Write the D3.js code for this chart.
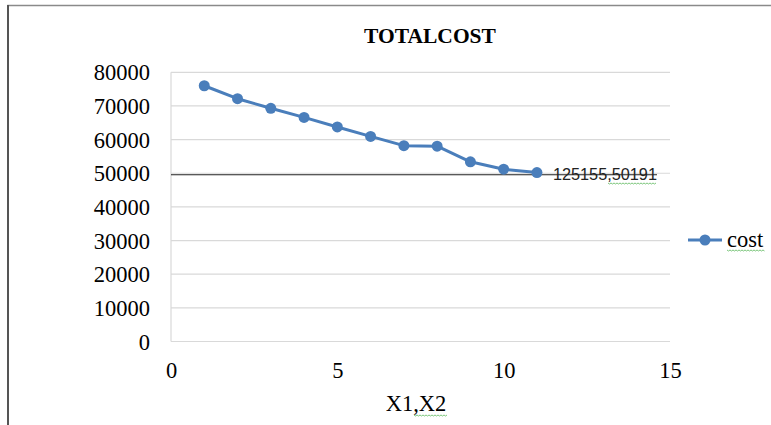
<!DOCTYPE html>
<html>
<head>
<meta charset="utf-8">
<script src="https://cdn.jsdelivr.net/npm/d3@7"></script>
<style>
  html, body { margin: 0; padding: 0; background: #fff; }
  svg { display: block; }
</style>
</head>
<body>
<svg id="chart" width="771" height="425"></svg>
<script>
// Total cost per step of (X1, X2)
const steps = [1, 2, 3, 4, 5, 6, 7, 8, 9, 10, 11];
const cost = [76000, 72150, 69300, 66600, 63750, 60950, 58200, 58050, 53400, 51200, 50191];
const xTicks = [0, 5, 10, 15];
const yTicks = [0, 10000, 20000, 30000, 40000, 50000, 60000, 70000, 80000];
const seriesName = "cost";
const chartTitle = "TOTALCOST";
const xTitle = "X1,X2";
const pointNote = "125155,50191";
const noteLineValue = 49550;

const blue = "#4a7ebb";
const svg = d3.select("#chart");

// outer chart frame
svg.append("rect")
  .attr("x", 8).attr("y", 5.5)
  .attr("width", 800).attr("height", 460)
  .attr("fill", "none").attr("stroke", "#8a8a8a").attr("stroke-width", 1.5);
svg.append("line")
  .attr("x1", 8).attr("x2", 8).attr("y1", 5).attr("y2", 425)
  .attr("stroke", "#555").attr("stroke-width", 2);

const x = d3.scaleLinear().domain([0, 15]).range([171, 670]);
const y = d3.scaleLinear().domain([0, 80000]).range([341.5, 72.3]);

// horizontal gridlines
svg.append("g")
  .selectAll("line").data(yTicks).join("line")
  .attr("x1", x(0)).attr("x2", x(15))
  .attr("y1", d => y(d)).attr("y2", d => y(d))
  .attr("stroke", "#d9d9d9").attr("stroke-width", 1.2);

// left edge of the plot area
svg.append("line")
  .attr("x1", x(0)).attr("x2", x(0)).attr("y1", y(80000)).attr("y2", y(0))
  .attr("stroke", "#d9d9d9").attr("stroke-width", 1.2);

// y axis labels
const yAxis = d3.axisLeft(y).tickValues(yTicks).tickSize(0).tickPadding(0).tickFormat(d3.format("d"));
const yg = svg.append("g").attr("transform", "translate(150,0)").call(yAxis);
yg.select(".domain").remove();
yg.selectAll("text")
  .attr("font-family", "'Liberation Serif', 'Times New Roman', serif")
  .attr("font-size", 22.5).attr("fill", "#000").attr("dy", "0.34em");

// x axis labels
const xAxis = d3.axisBottom(x).tickValues(xTicks).tickSize(0).tickPadding(0).tickFormat(d3.format("d"));
const xg = svg.append("g").attr("transform", "translate(0,362)").call(xAxis);
xg.select(".domain").remove();
xg.selectAll("text")
  .attr("font-family", "'Liberation Serif', 'Times New Roman', serif")
  .attr("font-size", 22.5).attr("fill", "#000").attr("dy", "0.72em");

// annotation line
svg.append("line")
  .attr("x1", x(0)).attr("x2", 657)
  .attr("y1", y(noteLineValue)).attr("y2", y(noteLineValue))
  .attr("stroke", "#222").attr("stroke-width", 1.2);

// series line and markers
const line = d3.line().x((d, i) => x(steps[i])).y(d => y(d));
svg.append("path")
  .datum(cost)
  .attr("d", line)
  .attr("fill", "none").attr("stroke", blue).attr("stroke-width", 3)
  .attr("stroke-linejoin", "round");
svg.append("g")
  .selectAll("circle").data(cost).join("circle")
  .attr("cx", (d, i) => x(steps[i])).attr("cy", d => y(d))
  .attr("r", 5.5).attr("fill", blue);

// note on last point
const last = cost.length - 1;
svg.append("text")
  .attr("x", x(steps[last]) + 16).attr("y", y(cost[last]) + 7)
  .attr("font-family", "'Liberation Sans', Arial, sans-serif")
  .attr("font-size", 16).attr("fill", "#222")
  .attr("textLength", 104).attr("lengthAdjust", "spacingAndGlyphs")
  .text(pointNote);

// spell-check squiggles
function squiggle(x0, x1, yy) {
  const pts = [];
  for (let i = 0, xx = x0; xx <= x1; xx += 1.5, i++) pts.push([xx, yy + (i % 2 ? 1 : 0)]);
  svg.append("path").attr("d", d3.line()(pts))
    .attr("fill", "none").attr("stroke", "#5cb85c").attr("stroke-width", 0.8);
}
squiggle(608, 657, 183);

// title
svg.append("text")
  .attr("x", 430).attr("y", 43)
  .attr("text-anchor", "middle")
  .attr("font-family", "'Liberation Serif', 'Times New Roman', serif")
  .attr("font-size", 21.5).attr("font-weight", "bold").attr("fill", "#000")
  .text(chartTitle);

// x axis title
svg.append("text")
  .attr("x", 416).attr("y", 411)
  .attr("text-anchor", "middle")
  .attr("font-family", "'Liberation Serif', 'Times New Roman', serif")
  .attr("font-size", 22.5).attr("fill", "#000")
  .text(xTitle);
squiggle(414, 448, 415);

// legend
const lg = svg.append("g").attr("transform", "translate(688,240)");
lg.append("line").attr("x1", 0).attr("x2", 34).attr("y1", 0).attr("y2", 0)
  .attr("stroke", blue).attr("stroke-width", 3);
lg.append("circle").attr("cx", 17).attr("cy", 0).attr("r", 5.5).attr("fill", blue);
lg.append("text")
  .attr("x", 39).attr("y", 7)
  .attr("font-family", "'Liberation Serif', 'Times New Roman', serif")
  .attr("font-size", 22.5).attr("fill", "#000")
  .text(seriesName);
squiggle(727, 765, 250);
</script>
</body>
</html>
